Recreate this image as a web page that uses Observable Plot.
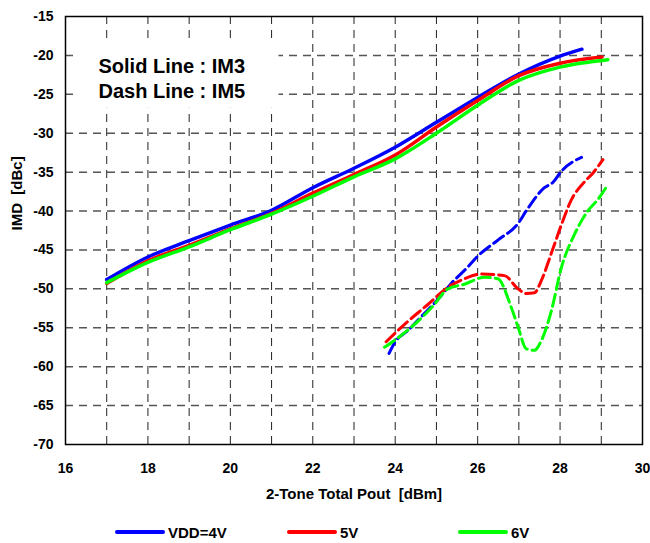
<!DOCTYPE html>
<html><head><meta charset="utf-8">
<script src="https://cdn.jsdelivr.net/npm/d3@7"></script>
<script src="https://cdn.jsdelivr.net/npm/@observablehq/plot@0.6"></script>
<style>
body{margin:0;background:#fff;font-family:"Liberation Sans",Arial,sans-serif;}
#chart{width:650px;}
#legend{position:relative;width:650px;height:31px;font-weight:bold;font-size:15px;color:#000;}
.item{position:absolute;top:10px;height:20px;display:flex;align-items:center;white-space:nowrap;}
.sw{display:inline-block;width:50px;height:4px;border-radius:2px;margin-right:3px;}
</style></head>
<body>
<div id="chart"></div>
<div id="legend"></div>
<script>
// ---- data ----
const seriesNames = ["VDD=4V", "5V", "6V"];
const seriesColors = ["#0000ff", "#ff0000", "#00ff00"];
const xTicks = [16, 18, 20, 22, 24, 26, 28, 30];
const yTicks = [-15, -20, -25, -30, -35, -40, -45, -50, -55, -60, -65, -70];
const xGridValues = [17, 18, 19, 20, 21, 22, 23, 24, 25, 26, 27, 28, 29];
const yGridValues = [-20, -25, -30, -35, -40, -45, -50, -55, -60, -65];
const xTitle = "2-Tone Total Pout \u00a0[dBm]";
const yTitle = "IMD \u00a0[dBc]";
const noteLines = ["Solid Line : IM3", "Dash Line : IM5"];
const notePos = [[16.8, -21.4], [16.8, -24.6]];
const noteBox = {x1: 16.2, x2: 21.18, y1: -18.1, y2: -26.8};

// IM3 (solid)
const im3_4V = [[17,-48.8],[18,-45.9],[19,-43.8],[20,-41.8],[21,-39.9],[22,-37.0],[23,-34.5],[24,-31.8],[25,-28.6],[26,-25.4],[27,-22.4],[28,-20.1],[28.53,-19.2]];
const im3_5V = [[17,-49.3],[18,-46.4],[19,-44.4],[20,-42.3],[21,-40.3],[22,-37.7],[23,-35.3],[24,-32.8],[25,-29.2],[26,-25.8],[27,-22.6],[28,-21.0],[29.02,-20.2]];
const im3_6V = [[17,-49.2],[18,-46.6],[19,-44.6],[20,-42.4],[21,-40.4],[22,-38.1],[23,-35.6],[24,-33.3],[25,-30.0],[26,-26.4],[27,-23.2],[28,-21.5],[29.16,-20.55]];
// IM5 (dashed)
const im5_4V = [[23.85,-58.3],[24.0,-56.8],[24.3,-55.4],[24.7,-53.2],[25.03,-51.4],[25.36,-49.3],[25.76,-47.2],[26.02,-45.7],[26.5,-43.7],[26.98,-41.6],[27.2,-39.8],[27.62,-37.0],[27.83,-36.3],[28.03,-34.9],[28.52,-33.1]];
const im5_5V = [[23.78,-56.8],[24.26,-54.4],[24.75,-52.2],[25.28,-49.8],[25.68,-48.7],[26.09,-48.1],[26.65,-48.3],[26.98,-50.0],[27.18,-50.6],[27.38,-50.5],[27.54,-49.0],[27.79,-45.4],[28.03,-41.8],[28.27,-38.6],[28.6,-36.2],[28.8,-35.1],[29.04,-33.4]];
const im5_6V = [[23.74,-57.5],[24.26,-55.5],[24.7,-53.4],[24.9,-52.3],[25.28,-50.0],[25.68,-49.4],[26.17,-48.5],[26.49,-48.7],[26.81,-52.3],[26.98,-54.9],[27.18,-57.7],[27.38,-57.9],[27.54,-56.7],[27.79,-52.8],[28.03,-47.3],[28.35,-43.0],[28.67,-40.0],[28.92,-38.5],[29.16,-36.6]];

// ---- build ----
const toRows = (arr, s) => arr.map(([x, y]) => ({series: s, x, y}));
const im3Rows = [...toRows(im3_4V, seriesNames[0]), ...toRows(im3_5V, seriesNames[1]), ...toRows(im3_6V, seriesNames[2])];
const im5Rows = [...toRows(im5_4V, seriesNames[0]), ...toRows(im5_5V, seriesNames[1]), ...toRows(im5_6V, seriesNames[2])];
const notes = noteLines.map((t, i) => ({text: t, x: notePos[i][0], y: notePos[i][1]}));
const font = '"Liberation Sans", Arial, sans-serif';

const chart = Plot.plot({
  width: 650, height: 512,
  marginLeft: 65, marginRight: 8, marginTop: 16, marginBottom: 68,
  x: {domain: [16, 30]},
  y: {domain: [-70, -15]},
  color: {domain: seriesNames, range: seriesColors},
  style: {fontFamily: font, background: "white", color: "black"},
  marks: [
    Plot.gridX(xGridValues, {stroke: "#222", strokeOpacity: 1, strokeWidth: 1, strokeDasharray: "8,6"}),
    Plot.gridY(yGridValues, {stroke: "#555", strokeOpacity: 1, strokeWidth: 1.5, strokeDasharray: "8,6"}),
    Plot.rect([noteBox], {x1: "x1", x2: "x2", y1: "y1", y2: "y2", fill: "white"}),
    Plot.text(notes, {x: "x", y: "y", text: "text", textAnchor: "start", fontSize: 20, fontWeight: "bold", fill: "black"}),
    Plot.line(im3Rows, {x: "x", y: "y", z: "series", stroke: "series", strokeWidth: 3.5, curve: "monotone-x"}),
    Plot.line(im5Rows, {x: "x", y: "y", z: "series", stroke: "series", strokeWidth: 3, strokeDasharray: "12,5", curve: "monotone-x"}),
    Plot.frame({stroke: "black", strokeWidth: 1.5}),
    Plot.axisX(xTicks, {tickSize: 0, tickPadding: 19, fontSize: 14, fontWeight: "bold", tickFormat: d => String(d), label: null}),
    Plot.axisY(yTicks, {tickSize: 0, tickPadding: 12, fontSize: 14, fontWeight: "bold", tickFormat: d => String(d), label: null}),
    Plot.text([xTitle], {frameAnchor: "bottom", dy: 54, fontSize: 15, fontWeight: "bold", fill: "black"}),
    Plot.text([yTitle], {frameAnchor: "left", dx: -48, rotate: -90, fontSize: 15, fontWeight: "bold", fill: "black"})
  ]
});
document.getElementById("chart").appendChild(chart);

// legend
const legendLeft = [115, 287, 458];
const legend = document.getElementById("legend");
seriesNames.forEach((name, i) => {
  const it = document.createElement("div");
  it.className = "item";
  it.style.left = legendLeft[i] + "px";
  const sw = document.createElement("span");
  sw.className = "sw";
  sw.style.background = seriesColors[i];
  const tx = document.createElement("span");
  tx.textContent = name;
  it.appendChild(sw); it.appendChild(tx);
  legend.appendChild(it);
});
</script>
</body></html>
